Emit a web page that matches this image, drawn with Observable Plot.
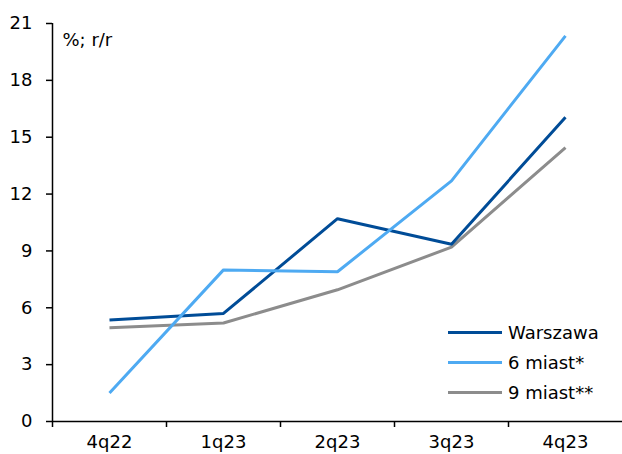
<!DOCTYPE html>
<html>
<head>
<meta charset="utf-8">
<script src="https://cdn.jsdelivr.net/npm/d3@7"></script>
<script src="https://cdn.jsdelivr.net/npm/@observablehq/plot@0.6"></script>
<style>
  html, body { margin: 0; padding: 0; background: #fff; }
  #wrap { position: relative; width: 622px; height: 454px; overflow: hidden; font-family: "DejaVu Sans", sans-serif; }
  #legend { position: absolute; left: 448px; top: 317px; font-size: 18px; color: #000; }
  .row { display: flex; align-items: center; height: 30px; }
  .sw { width: 54px; height: 3px; margin-right: 6px; }
</style>
</head>
<body>
<div id="wrap"></div>
<script>
const categories = ["4q22", "1q23", "2q23", "3q23", "4q23"];
const seriesNames = ["Warszawa", "6 miast*", "9 miast**"];
const seriesColors = ["#004c97", "#4eaaf2", "#8c8c8c"];
const warszawa = [5.35, 5.7, 10.7, 9.35, 16.05];
const miast6 = [1.5, 8.0, 7.9, 12.7, 20.35];
const miast9 = [4.95, 5.2, 6.95, 9.2, 14.45];
const yTicks = [0, 3, 6, 9, 12, 15, 18, 21];
const unitLabel = "%; r/r";

const valuesBySeries = [warszawa, miast6, miast9];
const data = [];
valuesBySeries.forEach((vals, s) => {
  vals.forEach((v, i) => data.push({ series: seriesNames[s], i, v }));
});
const drawOrder = ["9 miast**", "Warszawa", "6 miast*"];
const ordered = drawOrder.flatMap(n => data.filter(d => d.series === n));

const chart = Plot.plot({
  width: 622,
  height: 454,
  marginLeft: 52,
  marginRight: 0,
  marginTop: 23,
  marginBottom: 33,
  style: { fontFamily: "DejaVu Sans, sans-serif", fontSize: "18px", color: "#000", background: "#fff" },
  x: { type: "linear", domain: [-0.5, categories.length - 0.5] },
  y: { domain: [0, 21] },
  color: { domain: seriesNames, range: seriesColors },
  marks: [
    Plot.axisY({ ticks: yTicks, tickSize: 6, tickPadding: 14, tickFormat: d => String(d), label: null, stroke: "#000", strokeWidth: 1.5, fontSize: 18 }),
    Plot.axisX({ ticks: d3.range(categories.length).map(i => i - 0.5), tickSize: 6, tickFormat: () => "", label: null, stroke: "#000", strokeWidth: 1.5 }),
    Plot.axisX({ ticks: d3.range(categories.length), tickSize: 0, tickPadding: 14, tickFormat: i => categories[i], label: null, fontSize: 18 }),
    Plot.ruleX([-0.5], { stroke: "#000", strokeWidth: 1.5 }),
    Plot.ruleY([0], { stroke: "#000", strokeWidth: 1.5 }),
    Plot.line(ordered, { x: "i", y: "v", z: "series", stroke: "series", strokeWidth: 3, strokeLinejoin: "miter", strokeLinecap: "butt" }),
    Plot.text([unitLabel], { frameAnchor: "top-left", dx: 10, dy: 10, lineAnchor: "top", textAnchor: "start", fontSize: 18 })
  ]
});

const wrap = document.getElementById("wrap");
wrap.appendChild(chart);
const legend = document.createElement("div");
legend.id = "legend";
seriesNames.forEach((n, k) => {
  const row = document.createElement("div");
  row.className = "row";
  const sw = document.createElement("div");
  sw.className = "sw";
  sw.style.background = seriesColors[k];
  const t = document.createElement("span");
  t.textContent = n;
  row.appendChild(sw);
  row.appendChild(t);
  legend.appendChild(row);
});
wrap.appendChild(legend);
</script>
</body>
</html>
